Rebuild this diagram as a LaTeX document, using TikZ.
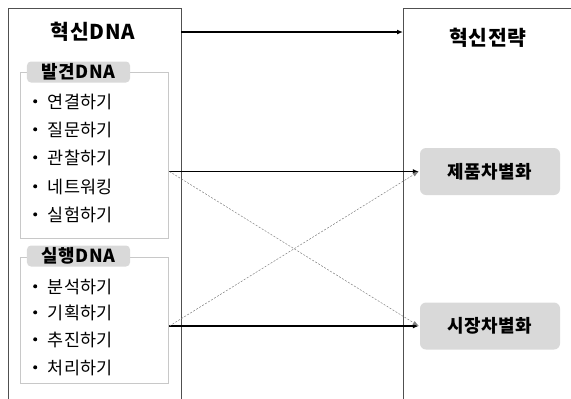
\documentclass[tikz,border=0pt]{standalone}
\usepackage{fontspec}
\setmainfont{Noto Sans CJK KR}
\usetikzlibrary{arrows.meta,calc}

\definecolor{panelline}{HTML}{505050}
\definecolor{groupline}{HTML}{C8C8C8}
\definecolor{tagfill}{HTML}{D9D9D9}

\newcommand\bul{\makebox[16.5bp][l]{\hspace{2bp}\raisebox{0.3em}{\tikz\fill (0,0) circle (2bp);}}}

\begin{document}
\begin{tikzpicture}[x=1bp,y=-1bp,
  panel/.style={draw=panelline,line width=0.8bp,rectangle,inner sep=0pt},
  group/.style={draw=groupline,line width=0.9bp,rectangle,inner sep=0pt},
  tag/.style={fill=tagfill,rounded corners=4bp,minimum width=103bp,minimum height=21bp,
              inner sep=0pt,font=\fontsize{18}{20}\selectfont\bfseries\addfontfeature{LetterSpace=3}},
  goal/.style={fill=tagfill,rounded corners=6bp,minimum width=140bp,minimum height=47bp,
              inner sep=0pt,font=\fontsize{18}{20}\selectfont\bfseries\addfontfeature{LetterSpace=3}},
  title/.style={font=\fontsize{20.5}{22}\selectfont\bfseries\addfontfeature{LetterSpace=3},inner sep=0pt},
  entry/.style={anchor=west,inner sep=0pt,font=\fontsize{17.5}{19}\selectfont\addfontfeature{LetterSpace=2}},
  flow/.style={line width=1.3bp,-{Latex[length=6bp,width=5bp]}},
  cross/.style={draw=gray,line width=0.5bp,dash pattern=on 2bp off 1.5bp,
              -{Latex[length=6bp,width=4bp]}}]

\clip (0,0) rectangle (571,398);

% two large panels, running past the lower edge
\node[panel,minimum width=173bp,minimum height=412bp] (innov) at (94.5,214) {};
\node[panel,minimum width=190bp,minimum height=412bp,anchor=north west] (strat) at (403,8) {};

\node[title] (innovT) at (93,32) {혁신DNA};
\node[title] (stratT) at (488,38) {혁신전략};

% discovery group
\node[group,minimum width=148bp,minimum height=166bp] (disc) at (94,155) {};
\node[tag] (discT) at (78.5,72) {발견DNA};
\node[entry] (d1) at (31,102) {\bul 연결하기};
\node[entry] (d2) at (31,130) {\bul 질문하기};
\node[entry] (d3) at (31,158) {\bul 관찰하기};
\node[entry] (d4) at (31,187) {\bul 네트워킹};
\node[entry] (d5) at (31,215) {\bul 실험하기};

% execution group
\node[group,minimum width=148bp,minimum height=126bp] (exec) at (94,320) {};
\node[tag] (execT) at (78.5,256) {실행DNA};
\node[entry] (e1) at (31,287) {\bul 분석하기};
\node[entry] (e2) at (31,313) {\bul 기획하기};
\node[entry] (e3) at (31,340) {\bul 추진하기};
\node[entry] (e4) at (31,368) {\bul 처리하기};

% strategy targets
\node[goal] (prod) at (490,171.5) {제품차별화};
\node[goal] (mkt) at (490,326) {시장차별화};

% connectors
\draw[flow] (innov.east |- innovT) -- (strat.west |- innovT);
\coordinate (dOut) at ($(disc.east |- prod.west)+(1,0)$);
\coordinate (eOut) at ($(exec.east |- mkt.west)+(1,0)$);
\draw[flow] (dOut) -- ($(prod.west)+(-1,0)$);
\draw[flow] (eOut) -- ($(mkt.west)+(-1,0)$);
\draw[cross] (dOut) -- ($(mkt.west)+(-1,0)$);
\draw[cross] (eOut) -- ($(prod.west)+(-1,0)$);

\end{tikzpicture}
\end{document}
